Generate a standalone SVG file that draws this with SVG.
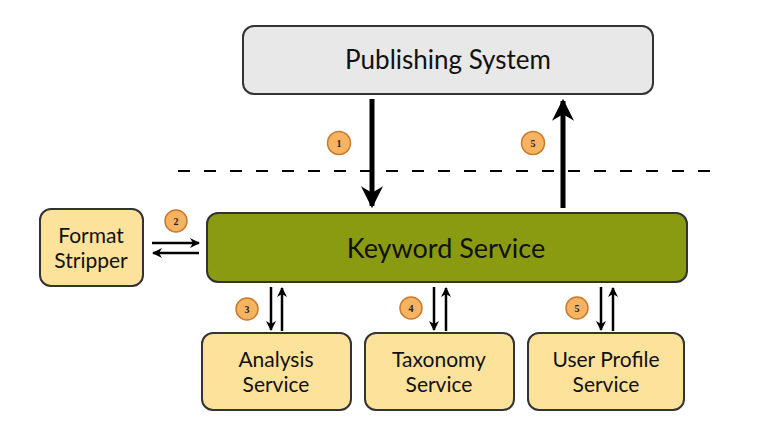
<svg xmlns="http://www.w3.org/2000/svg" width="762" height="446" viewBox="0 0 762 446">
<style>
.box{stroke:#333;stroke-width:2}
.svc{fill:#fde29c}
.lbl{font-family:Lato,"Open Sans","Liberation Sans",sans-serif;fill:#111;text-anchor:middle}
.mid{font-size:21px}
.badge{fill:#f6b462;stroke:#c97a2c;stroke-width:1.5}
.num{font-family:"Liberation Serif",serif;font-weight:bold;font-size:10px;fill:#222;text-anchor:middle}
.thin{stroke:#000;stroke-width:2.5;fill:none}
.thick{stroke:#000;stroke-width:5;fill:none}
</style>
<defs>
<marker id="ah" viewBox="0 0 10 10" refX="9" refY="5" markerWidth="4" markerHeight="4" markerUnits="strokeWidth" orient="auto">
<path d="M0,0 L10,5 L0,10 L3,5 Z" fill="#000"/>
</marker>
<marker id="ahb" viewBox="0 0 10 10" refX="9" refY="5" markerWidth="4.4" markerHeight="4.4" markerUnits="strokeWidth" orient="auto">
<path d="M0,0 L10,5 L0,10 L3,5 Z" fill="#000"/>
</marker>
</defs>
<rect width="762" height="446" fill="#fff"/>
<line x1="178" y1="171" x2="716" y2="171" stroke="#000" stroke-width="2" stroke-dasharray="12,14"/>
<g id="publishing">
<rect class="box" x="243" y="26" width="410" height="68" rx="11" fill="#e8e8e8"/>
<text class="lbl" x="448" y="69" font-size="26">Publishing System</text>
</g>
<g id="keyword">
<rect class="box" x="207" y="213" width="480" height="69" rx="11" fill="#8a9a11"/>
<text class="lbl" x="446" y="258" font-size="27">Keyword Service</text>
</g>
<g id="format">
<rect class="box svc" x="40" y="209" width="103" height="77" rx="11"/>
<text class="lbl mid" x="91" y="243">Format</text>
<text class="lbl mid" x="91" y="268">Stripper</text>
</g>
<g id="analysis">
<rect class="box svc" x="202" y="333" width="149" height="77" rx="11"/>
<text class="lbl mid" x="276" y="367">Analysis</text>
<text class="lbl mid" x="276" y="392">Service</text>
</g>
<g id="taxonomy">
<rect class="box svc" x="365" y="333" width="149" height="77" rx="11"/>
<text class="lbl mid" x="439" y="367">Taxonomy</text>
<text class="lbl mid" x="439" y="392">Service</text>
</g>
<g id="userprofile">
<rect class="box svc" x="528" y="333" width="156" height="77" rx="11"/>
<text class="lbl mid" x="606" y="367">User Profile</text>
<text class="lbl mid" x="606" y="392">Service</text>
</g>
<g id="connectors">
<line class="thick" x1="372" y1="99" x2="372" y2="206" marker-end="url(#ahb)"/>
<line class="thick" x1="563" y1="208" x2="563" y2="101" marker-end="url(#ahb)"/>
<line class="thin" x1="152" y1="243" x2="199" y2="243" marker-end="url(#ah)"/>
<line class="thin" x1="199" y1="253" x2="153" y2="253" marker-end="url(#ah)"/>
<line class="thin" x1="271" y1="287" x2="271" y2="330" marker-end="url(#ah)"/>
<line class="thin" x1="282" y1="331" x2="282" y2="288" marker-end="url(#ah)"/>
<line class="thin" x1="434" y1="287" x2="434" y2="330" marker-end="url(#ah)"/>
<line class="thin" x1="446" y1="331" x2="446" y2="288" marker-end="url(#ah)"/>
<line class="thin" x1="601" y1="287" x2="601" y2="330" marker-end="url(#ah)"/>
<line class="thin" x1="613" y1="331" x2="613" y2="288" marker-end="url(#ah)"/>
</g>
<g id="badges">
<circle class="badge" cx="339" cy="143" r="11.5"/><text class="num" x="339" y="147">1</text>
<circle class="badge" cx="533" cy="143" r="11.5"/><text class="num" x="533" y="147">5</text>
<circle class="badge" cx="176" cy="221" r="11"/><text class="num" x="176" y="225">2</text>
<circle class="badge" cx="247" cy="309" r="11"/><text class="num" x="247" y="313">3</text>
<circle class="badge" cx="411" cy="308" r="11"/><text class="num" x="411" y="312">4</text>
<circle class="badge" cx="577" cy="308" r="11"/><text class="num" x="577" y="312">5</text>
</g>
</svg>
